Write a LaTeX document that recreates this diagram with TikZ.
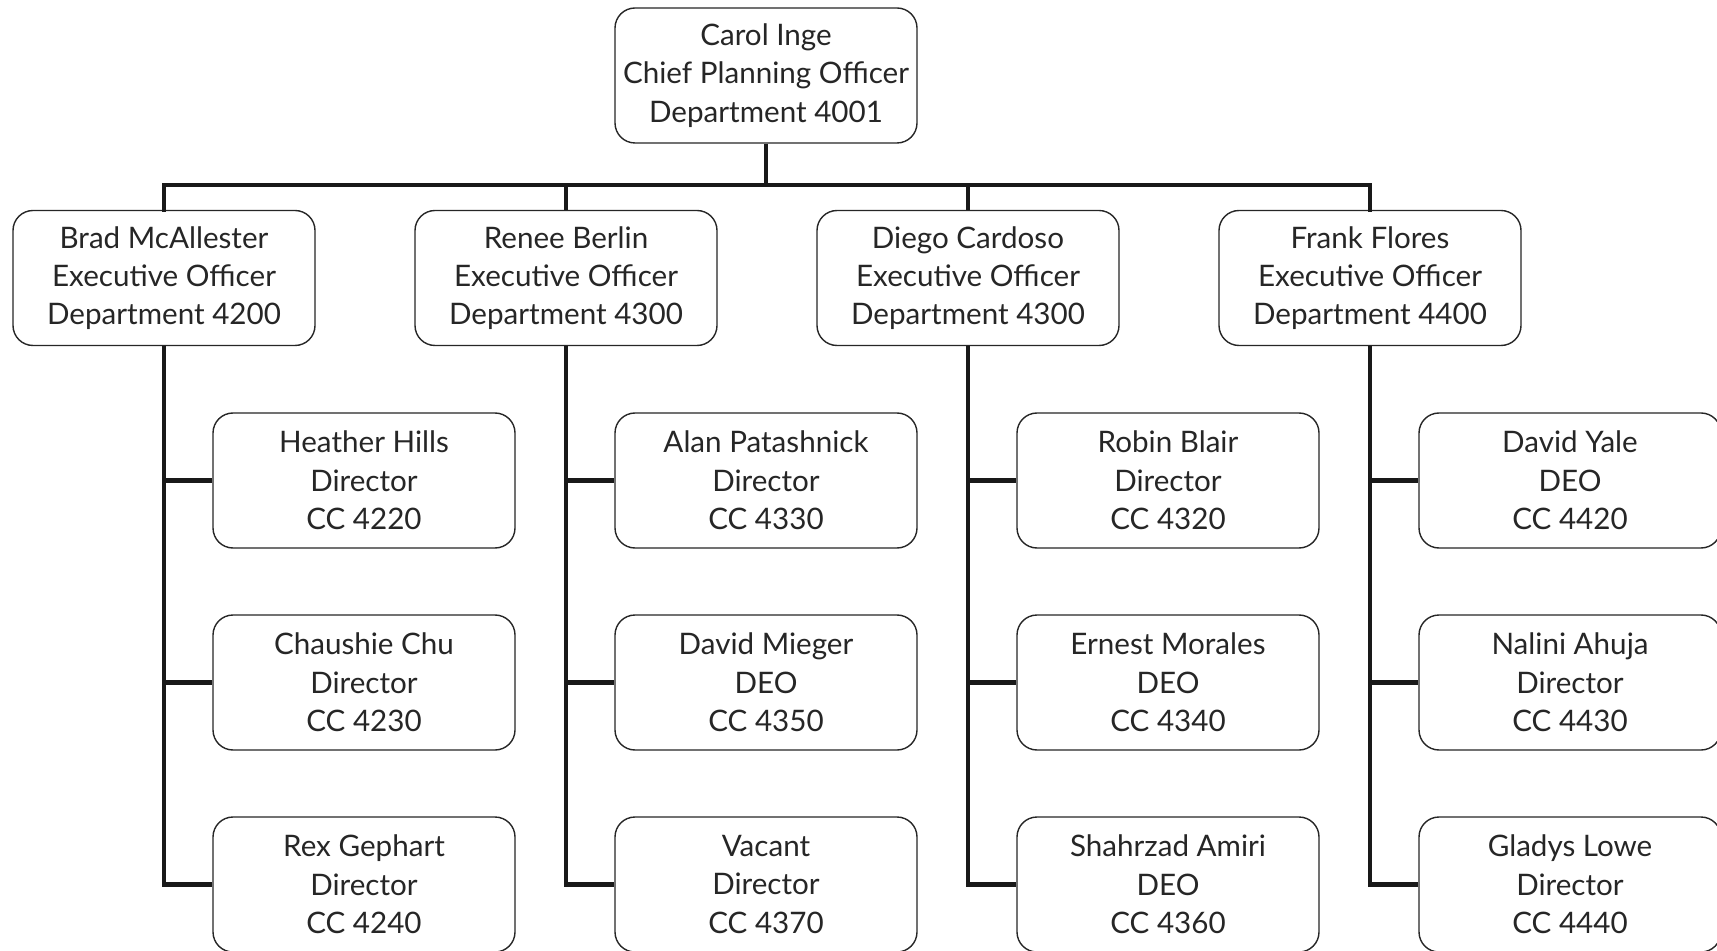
\documentclass[tikz,border=0pt]{standalone}
\usepackage{fontspec}
\setmainfont{Lato}
\begin{document}
\begin{tikzpicture}[x=0.5pt,y=-0.5pt,
  box/.style={draw=black!85, line width=0.7pt, rounded corners=10pt, fill=white,
    minimum width=151pt, minimum height=67.5pt, inner sep=0pt, align=center,
    font=\fontsize{14.8pt}{19.15pt}\selectfont, text=black!85},
  conn/.style={line width=2.4pt, draw=black!90}]
\useasboundingbox (0,0) rectangle (1717,951);
\coordinate (bus) at (766,185);
\node[box] (top) at (766,75.5) {Carol Inge\\Chief Planning Officer\\Department 4001};
\node[box] (b1) at (164,278) {Brad McAllester\\Executive Officer\\Department 4200};
\node[box] (b2) at (566,278) {Renee Berlin\\Executive Officer\\Department 4300};
\node[box] (b3) at (968,278) {Diego Cardoso\\Executive Officer\\Department 4300};
\node[box] (b4) at (1370,278) {Frank Flores\\Executive Officer\\Department 4400};
% children
\node[box] (c11) at (364,480.5) {Heather Hills\\Director\\CC 4220};
\node[box] (c12) at (364,682.5) {Chaushie Chu\\Director\\CC 4230};
\node[box] (c13) at (364,884.5) {Rex Gephart\\Director\\CC 4240};
\node[box] (c21) at (766,480.5) {Alan Patashnick\\Director\\CC 4330};
\node[box] (c22) at (766,682.5) {David Mieger\\DEO\\CC 4350};
\node[box] (c23) at (766,884.5) {Vacant\\Director\\CC 4370};
\node[box] (c31) at (1168,480.5) {Robin Blair\\Director\\CC 4320};
\node[box] (c32) at (1168,682.5) {Ernest Morales\\DEO\\CC 4340};
\node[box] (c33) at (1168,884.5) {Shahrzad Amiri\\DEO\\CC 4360};
\node[box] (c41) at (1570,480.5) {David Yale\\DEO\\CC 4420};
\node[box] (c42) at (1570,682.5) {Nalini Ahuja\\Director\\CC 4430};
\node[box] (c43) at (1570,884.5) {Gladys Lowe\\Director\\CC 4440};
\begin{scope}[conn]
\draw (top.south) -- (bus);
\draw[line cap=rect] (b1.north) -- (b1.north |- bus) -- (b4.north |- bus) -- (b4.north);
\draw (b2.north) -- (b2.north |- bus);
\draw (b3.north) -- (b3.north |- bus);
\foreach \i in {1,2,3,4}{
  \draw (b\i.south) |- (c\i3.west);
  \draw (b\i.south |- c\i1.west) -- (c\i1.west);
  \draw (b\i.south |- c\i2.west) -- (c\i2.west);
}
\end{scope}
\end{tikzpicture}
\end{document}
